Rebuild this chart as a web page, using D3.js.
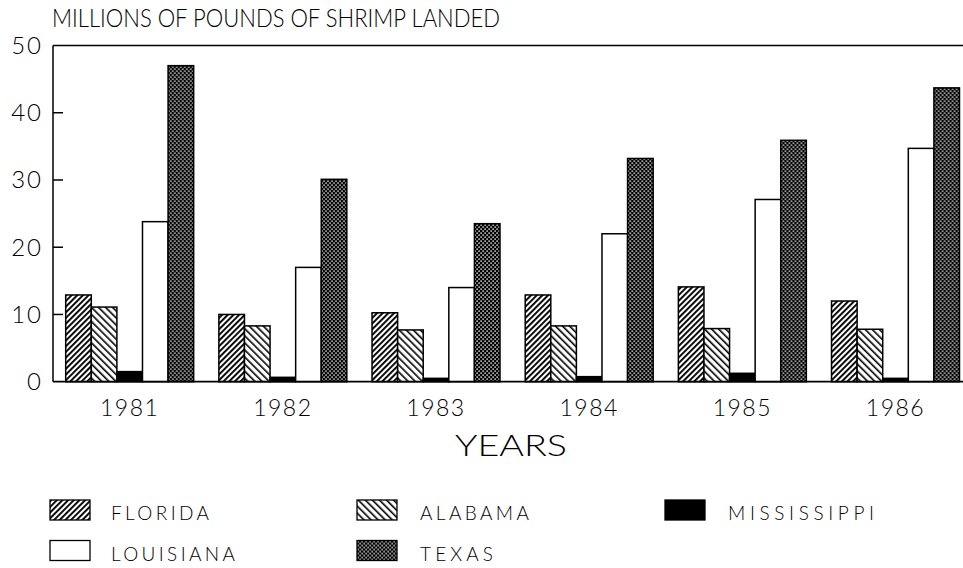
<!DOCTYPE html>
<meta charset="utf-8">
<head>
<style>
body { margin: 0; background: white; }
text { font-family: "Lato", "Liberation Sans", Arial, sans-serif; font-weight: 300; fill: black; }
</style>
</head>
<body>
<div id="chart"></div>
<script src="https://d3js.org/d3.v7.min.js"></script>
<script>

// data (millions of pounds)
var years = ["1981", "1982", "1983", "1984", "1985", "1986"];
var states = ["FLORIDA", "ALABAMA", "MISSISSIPPI", "LOUISIANA", "TEXAS"];
var florida     = [12.9, 10.0, 10.25, 12.9, 14.1, 12.0];
var alabama     = [11.1, 8.3, 7.7, 8.3, 7.9, 7.8];
var mississippi = [1.5, 0.65, 0.5, 0.75, 1.25, 0.5];
var louisiana   = [23.8, 17.0, 14.0, 22.0, 27.1, 34.7];
var texas       = [47.0, 30.1, 23.5, 33.2, 35.9, 43.7];
var yTicks = [0, 10, 20, 30, 40, 50];

var series = [florida, alabama, mississippi, louisiana, texas];

var width = 963, height = 568;

var svg = d3.select("#chart")
  .append("svg")
    .attr("width", width)
    .attr("height", height);

// fill patterns
var defs = svg.append("defs");

var pFl = defs.append("pattern")
    .attr("id", "pat-fl")
    .attr("patternUnits", "userSpaceOnUse")
    .attr("width", 4).attr("height", 4)
    .attr("patternTransform", "rotate(45)");
pFl.append("rect").attr("width", 4).attr("height", 4).attr("fill", "white");
pFl.append("rect").attr("width", 1.9).attr("height", 4).attr("fill", "black");

var pAl = defs.append("pattern")
    .attr("id", "pat-al")
    .attr("patternUnits", "userSpaceOnUse")
    .attr("width", 5).attr("height", 5)
    .attr("patternTransform", "rotate(-45)");
pAl.append("rect").attr("width", 5).attr("height", 5).attr("fill", "white");
pAl.append("rect").attr("width", 1.6).attr("height", 5).attr("fill", "black");

var pTx = defs.append("pattern")
    .attr("id", "pat-tx")
    .attr("patternUnits", "userSpaceOnUse")
    .attr("width", 4).attr("height", 4);
pTx.append("rect").attr("width", 4).attr("height", 4).attr("fill", "black");
pTx.append("rect").attr("x", 0.4).attr("y", 0.4).attr("width", 1.4).attr("height", 1.4).attr("fill", "white");
pTx.append("rect").attr("x", 2.4).attr("y", 2.4).attr("width", 1.4).attr("height", 1.4).attr("fill", "white");

var fills = d3.scaleOrdinal()
    .domain(states)
    .range(["url(#pat-fl)", "url(#pat-al)", "black", "white", "url(#pat-tx)"]);

// scales
var x0 = d3.scaleBand()
    .domain(years)
    .range([65.7, 959.5])
    .paddingInner(0.1645)
    .paddingOuter(0);

var x1 = d3.scaleBand()
    .domain(states)
    .range([0, x0.bandwidth()])
    .padding(0);

var y = d3.scaleLinear()
    .domain([0, 50])
    .range([381.7, 45.5]);

// title
svg.append("text")
    .attr("x", 52)
    .attr("y", 27)
    .attr("textLength", 448)
    .attr("lengthAdjust", "spacingAndGlyphs")
    .style("font-size", "26px")
    .text("MILLIONS OF POUNDS OF SHRIMP LANDED");

// bars
var groups = svg.append("g")
  .selectAll("g")
  .data(years)
  .enter()
  .append("g")
    .attr("transform", function(d) { return "translate(" + x0(d) + ",0)"; });

groups.selectAll("rect")
  .data(function(d, i) {
    return states.map(function(s, j) { return {state: s, value: series[j][i]}; });
  })
  .enter()
  .append("rect")
    .attr("x", function(d) { return x1(d.state); })
    .attr("y", function(d) { return y(d.value); })
    .attr("width", x1.bandwidth())
    .attr("height", function(d) { return y(0) - y(d.value); })
    .attr("fill", function(d) { return fills(d.state); })
    .attr("stroke", "black")
    .attr("stroke-width", 1.5);

// frame: left, top and bottom lines
svg.append("line")
    .attr("x1", 53).attr("x2", 53)
    .attr("y1", y(50)).attr("y2", y(0))
    .attr("stroke", "black").attr("stroke-width", 1.5);
svg.append("line")
    .attr("x1", 53).attr("x2", width)
    .attr("y1", y(50)).attr("y2", y(50))
    .attr("stroke", "black").attr("stroke-width", 1.5);
svg.append("line")
    .attr("x1", 53).attr("x2", width)
    .attr("y1", y(0)).attr("y2", y(0))
    .attr("stroke", "black").attr("stroke-width", 1.8);

// y axis ticks (inward) and labels
var yAxis = svg.append("g");
yAxis.selectAll("line")
  .data(yTicks.filter(function(d) { return d > 0 && d < 50; }))
  .enter()
  .append("line")
    .attr("x1", 53).attr("x2", 63)
    .attr("y1", function(d) { return y(d); })
    .attr("y2", function(d) { return y(d); })
    .attr("stroke", "black").attr("stroke-width", 1.5);
yAxis.selectAll("text")
  .data(yTicks)
  .enter()
  .append("text")
    .attr("x", 43)
    .attr("y", function(d) { return y(d) + 8.5; })
    .attr("text-anchor", "end")
    .style("font-size", "24px")
    .style("letter-spacing", "2px")
    .text(function(d) { return d; });

// x labels
svg.append("g")
  .selectAll("text")
  .data(years)
  .enter()
  .append("text")
    .attr("x", function(d) { return x0(d) + x0.bandwidth() / 2; })
    .attr("y", 416)
    .attr("text-anchor", "middle")
    .style("font-size", "23px")
    .style("letter-spacing", "1.5px")
    .text(function(d) { return d; });

svg.append("text")
    .attr("x", 511)
    .attr("y", 456)
    .attr("text-anchor", "middle")
    .attr("textLength", 112)
    .attr("lengthAdjust", "spacingAndGlyphs")
    .style("font-size", "29px")
    .text("YEARS");

// legend
var legendX = [50, 357, 665, 50, 357];
var legendY = [500, 500, 500, 540.5, 540.5];
var legendW = [98, 109, 146, 124, 73];

var legend = svg.selectAll(".legend")
  .data(states)
  .enter()
  .append("g")
    .attr("class", "legend")
    .attr("transform", function(d, i) { return "translate(" + legendX[i] + "," + legendY[i] + ")"; });

legend.append("rect")
    .attr("width", 40)
    .attr("height", 20)
    .attr("fill", fills)
    .attr("stroke", "black")
    .attr("stroke-width", 1.3);

legend.append("text")
    .attr("x", function(d, i) { return i == 0 || i == 3 ? 61 : 63; })
    .attr("y", 20)
    .attr("textLength", function(d, i) { return legendW[i]; })
    .attr("lengthAdjust", "spacing")
    .style("font-size", "19px")
    .text(function(d) { return d; });

</script>
</body>
